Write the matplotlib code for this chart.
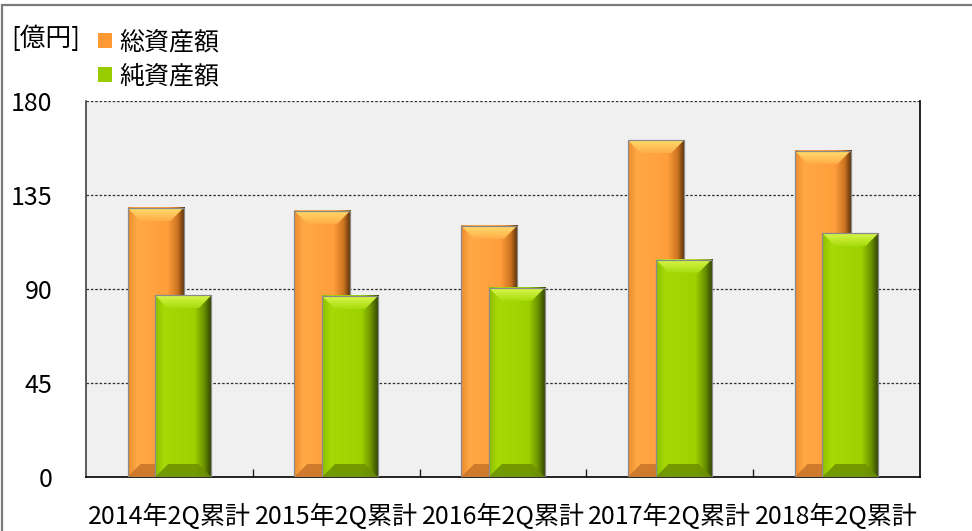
import numpy as np
import matplotlib.pyplot as plt
from matplotlib.patches import Polygon, Patch, Rectangle

plt.rcParams['font.family'] = ['Noto Sans CJK JP', 'DejaVu Sans']

# data (億円)
categories = ['2014年2Q累計', '2015年2Q累計', '2016年2Q累計', '2017年2Q累計', '2018年2Q累計']
total_assets = [128.8, 127.5, 120.3, 161.2, 156.2]
net_assets = [86.9, 86.7, 90.6, 104.1, 116.7]
series_names = ['総資産額', '純資産額']
yticks = [0, 45, 90, 135, 180]

W, H = 972, 531
fig = plt.figure(figsize=(W / 100, H / 100), dpi=100)
ax = fig.add_axes([86 / W, 1 - 477 / H, 834 / W, 376 / H])
ax.set_facecolor('#f0f0f0')
ax.set_xlim(-0.5, len(categories) - 0.5)
ax.set_ylim(0, 180)

# size of one pixel in data units, for the bevel
px = len(categories) / 834
py = 180 / 376

def ramp(stops, n=64, vertical=False):
    pos = [s[0] for s in stops]
    cols = np.array([s[1] for s in stops])
    t = np.linspace(0, 1, n)
    img = np.stack([np.interp(t, pos, cols[:, k]) for k in range(3)], axis=-1)
    if vertical:
        return img[:, np.newaxis, :]
    return img[np.newaxis, :, :]

styles = {
    'orange': dict(base='#ff9f3c', legend='#ff9933',
                   side=[(0, (0.93, 0.55, 0.18)), (0.15, (1.0, 0.66, 0.27)),
                         (0.7, (1.0, 0.62, 0.23)), (0.88, (0.80, 0.45, 0.13)),
                         (1.0, (0.33, 0.18, 0.04))],
                   top=[(0, (1.0, 0.86, 0.42)), (1, (1.0, 0.68, 0.28))],
                   bottom=(0.78, 0.45, 0.16)),
    'green': dict(base='#a0d000', legend='#99cc00',
                  side=[(0, (0.55, 0.75, 0.0)), (0.15, (0.65, 0.85, 0.02)),
                        (0.7, (0.62, 0.82, 0.0)), (0.88, (0.40, 0.55, 0.0)),
                        (1.0, (0.18, 0.25, 0.0))],
                  top=[(0, (0.85, 0.97, 0.3)), (1, (0.66, 0.86, 0.05))],
                  bottom=(0.42, 0.56, 0.0)),
}

def bevel_bars(xs, values, width, st, z):
    bars = ax.bar(xs, values, width, color=st['base'], zorder=z)
    for b in bars:
        x0, w, h = b.get_x(), b.get_width(), b.get_height()
        x1 = x0 + w
        ax.imshow(ramp(st['side']), extent=(x0, x1, 0, h), aspect='auto',
                  interpolation='bilinear', zorder=z + 0.1)
        bx, by = 13 * px, 13 * py
        tp = Polygon([(x0, h), (x1, h), (x1 - bx, h - by), (x0 + bx, h - by)],
                     closed=True, facecolor='none', edgecolor='none', zorder=z + 0.2)
        ax.add_patch(tp)
        im = ax.imshow(ramp(st['top'], vertical=True), extent=(x0, x1, h - by, h),
                       aspect='auto', interpolation='bilinear', zorder=z + 0.2)
        im.set_clip_path(tp)
        ax.add_patch(Polygon([(x0, 0), (x1, 0), (x1 - bx, by), (x0 + bx, by)],
                             closed=True, facecolor=st['bottom'], edgecolor='none',
                             alpha=0.85, zorder=z + 0.2))
        ax.add_patch(Rectangle((x0, 0), w, h, fill=False, edgecolor='#8a8a8a',
                               linewidth=0.9, zorder=z + 0.3))
    return bars

x = np.arange(len(categories))
bw = 0.336
off = 0.083
bevel_bars(x - off, total_assets, bw, styles['orange'], 3)
bevel_bars(x + off, net_assets, bw, styles['green'], 4)

ax.set_xlim(-0.5, len(categories) - 0.5)
ax.set_ylim(0, 180)

# grid
ax.set_yticks(yticks)
ax.set_yticklabels([str(v) for v in yticks], fontsize=18)
ax.yaxis.grid(True, color='#303030', linestyle=(0, (2, 1.5)), linewidth=0.9)
ax.set_axisbelow(True)
ax.tick_params(axis='y', length=0, pad=24)

ax.set_xticks(x)
ax.set_xticklabels(categories, fontsize=18)
ax.set_xticks(np.arange(0.5, len(categories) - 0.5, 1), minor=True)
ax.tick_params(axis='x', which='major', length=0, pad=19)
ax.tick_params(axis='x', which='minor', direction='in', length=6, width=1, color='#202020')

ax.spines['top'].set_visible(False)
ax.spines['left'].set_color('#404040')
ax.spines['right'].set_color('black')
ax.spines['bottom'].set_color('black')
for s in ['left', 'right', 'bottom']:
    ax.spines[s].set_linewidth(1.2)

# unit and legend
fig.text(11 / W, 1 - 39 / H, '[億円]', fontsize=18.5, va='center', ha='left')
handles = [Patch(facecolor=styles['orange']['legend']), Patch(facecolor=styles['green']['legend'])]
fig.legend(handles, series_names, loc='upper left', bbox_to_anchor=(88 / W, 1 - 19 / H),
           frameon=False, fontsize=18, handlelength=0.55, handleheight=0.55,
           handletextpad=0.3, labelspacing=0.35, borderaxespad=0)

# outer frame of the picture
fig.patches.append(Rectangle((2 / W, -0.2), 1.2, 1.2 - 5 / H, transform=fig.transFigure,
                             fill=False, edgecolor='#7a7a7a', linewidth=1.6))

fig.savefig('out.png', dpi=100)
